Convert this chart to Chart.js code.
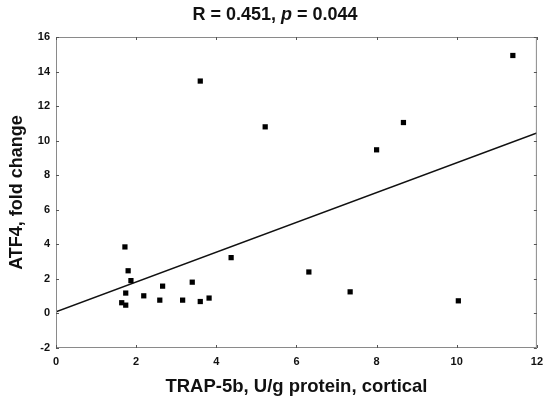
<!DOCTYPE html>
<html>
<head>
<meta charset="utf-8">
<script src="https://cdn.jsdelivr.net/npm/chart.js@4"></script>
<style>
  html, body { margin: 0; padding: 0; background: #fff; }
  .wrap { position: relative; width: 550px; height: 398px; }
  .title {
    position: absolute; left: 0; top: 4px; width: 550px; text-align: center;
    font: bold 18px "Liberation Sans", Arial, sans-serif; color: #111; line-height: 21px;
  }
</style>
</head>
<body>
<div class="wrap">
  <div class="title">R = 0.451, <i>p</i> = 0.044</div>
  <canvas id="chart" width="550" height="398"></canvas>
</div>
<script>
/* data */
const trapX = [1.72, 1.80, 1.87, 1.74, 1.64, 1.74, 2.19, 2.66, 2.59, 3.40, 3.16,
               3.60, 3.82, 4.37, 3.60, 5.22, 6.31, 7.34, 8.00, 8.67, 10.04, 11.40];
const atf4Y = [3.85, 2.47, 1.90, 1.18, 0.62, 0.48, 1.02, 1.58, 0.77, 1.81, 0.77,
               0.69, 0.89, 3.23, 13.45, 10.80, 2.40, 1.25, 9.47, 11.05, 0.73, 14.93];

/* regression line ends */
const fitX = [0, 12];
const fitY = [0.1, 10.45];

const xTicks = [0, 2, 4, 6, 8, 10, 12];
const yTicks = [-2, 0, 2, 4, 6, 8, 10, 12, 14, 16];

const FONT = "'Liberation Sans', Arial, sans-serif";

/* frame + inward ticks on all four sides */
const framePlugin = {
  id: "frame",
  afterDraw(chart) {
    const { ctx, chartArea: a, scales } = chart;
    ctx.save();
    ctx.strokeStyle = "#8a8a8a";
    ctx.lineWidth = 1;
    ctx.strokeRect(a.left + 0.5, a.top + 0.5, a.right - a.left - 1, a.bottom - a.top - 1);
    ctx.strokeStyle = "#555";
    const len = 3;
    ctx.beginPath();
    xTicks.forEach(v => {
      const px = Math.round(scales.x.getPixelForValue(v)) + 0.5;
      ctx.moveTo(px, a.bottom); ctx.lineTo(px, a.bottom - len);
      ctx.moveTo(px, a.top); ctx.lineTo(px, a.top + len);
    });
    yTicks.forEach(v => {
      const py = Math.round(scales.y.getPixelForValue(v)) + 0.5;
      ctx.moveTo(a.left, py); ctx.lineTo(a.left + len, py);
      ctx.moveTo(a.right, py); ctx.lineTo(a.right - len, py);
    });
    ctx.stroke();
    ctx.restore();
  }
};

new Chart(document.getElementById("chart"), {
  type: "scatter",
  data: {
    datasets: [
      {
        label: "points",
        data: trapX.map((x, i) => ({ x, y: atf4Y[i] })),
        pointStyle: "rect",
        pointRadius: 3.7,
        backgroundColor: "#000",
        borderColor: "#000",
        borderWidth: 0
      },
      {
        type: "line",
        label: "fit",
        data: fitX.map((x, i) => ({ x, y: fitY[i] })),
        borderColor: "#111",
        borderWidth: 1.5,
        pointRadius: 0,
        fill: false
      }
    ]
  },
  options: {
    responsive: false,
    animation: false,
    layout: { padding: { left: 0, right: 13, top: 37, bottom: 0 } },
    plugins: { legend: { display: false }, tooltip: { enabled: false } },
    scales: {
      x: {
        type: "linear", min: 0, max: 12,
        afterBuildTicks: s => { s.ticks = xTicks.map(v => ({ value: v })); },
        afterFit: s => { s.height = 50; },
        grid: { display: false, drawTicks: false },
        border: { display: false },
        ticks: { color: "#111", padding: 7, font: { family: FONT, size: 11, weight: "bold" } },
        title: {
          display: true, text: "TRAP-5b, U/g protein, cortical", color: "#111",
          padding: { top: 0, bottom: 0 },
          font: { family: FONT, size: 18.5, weight: "bold" }
        }
      },
      y: {
        type: "linear", min: -2, max: 16,
        afterBuildTicks: s => { s.ticks = yTicks.map(v => ({ value: v })); },
        afterFit: s => { s.width = 56; },
        grid: { display: false, drawTicks: false },
        border: { display: false },
        ticks: { color: "#111", padding: 6, font: { family: FONT, size: 11, weight: "bold" } },
        title: {
          display: true, text: "ATF4, fold change", color: "#111",
          padding: { top: 6, bottom: 0 },
          font: { family: FONT, size: 18, weight: "bold" }
        }
      }
    }
  },
  plugins: [framePlugin]
});
</script>
</body>
</html>
